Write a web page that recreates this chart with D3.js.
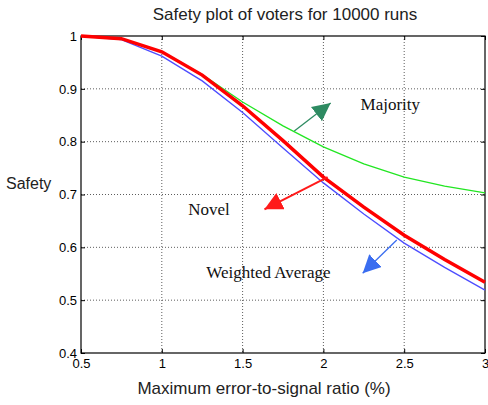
<!DOCTYPE html>
<html>
<head>
<meta charset="utf-8">
<script src="https://cdn.jsdelivr.net/npm/d3@7"></script>
<style>
  body { margin: 0; background: #fff; }
  svg { font-family: "Liberation Sans", Arial, sans-serif; }
  .grid line { stroke: #333; stroke-dasharray: 1,2; stroke-width: 0.8; }
  .note { font-family: "Liberation Serif", "Times New Roman", serif; font-size: 17px; fill: #111; }
</style>
</head>
<body>
<div id="chart"></div>
<script>
const ratio = [0.5, 0.75, 1, 1.25, 1.5, 1.75, 2, 2.25, 2.5, 2.75, 3]
const novel = [1.0, 0.995, 0.97, 0.926, 0.868, 0.802, 0.733, 0.676, 0.623, 0.577, 0.534]
const weighted = [1.0, 0.993, 0.962, 0.915, 0.855, 0.788, 0.722, 0.663, 0.608, 0.562, 0.519]
const majority = [1.0, 0.995, 0.97, 0.927, 0.875, 0.83, 0.79, 0.758, 0.733, 0.716, 0.703]
const xTicks = [0.5, 1, 1.5, 2, 2.5, 3]
const yTicks = [0.4, 0.5, 0.6, 0.7, 0.8, 0.9, 1]

// annotations: label position and arrow tail/tip in data units
const notes = [
  {text: "Majority", x: 2.23, y: 0.86, from: [1.82, 0.82], to: [2.045, 0.873], color: "#2e8b62"},
  {text: "Novel", x: 1.164, y: 0.661, from: [2.026, 0.733], to: [1.635, 0.672], color: "#ff1a1a"},
  {text: "Weighted Average", x: 1.275, y: 0.542, from: [2.454, 0.614], to: [2.243, 0.551], color: "#3a6df0"}
]

const width = 488, height = 405
const margin = {top: 36, right: 3, bottom: 52, left: 81}

const svg = d3.select("#chart").append("svg")
  .attr("width", width).attr("height", height)

const x = d3.scaleLinear().domain([0.5, 3]).range([margin.left, width - margin.right])
const y = d3.scaleLinear().domain([0.4, 1]).range([height - margin.bottom, margin.top])

// grid
svg.append("g").attr("class", "grid")
  .selectAll("line").data(xTicks.slice(1, -1)).join("line")
  .attr("x1", d => x(d)).attr("x2", d => x(d))
  .attr("y1", y(1)).attr("y2", y(0.4))
svg.append("g").attr("class", "grid")
  .selectAll("line").data(yTicks.slice(1, -1)).join("line")
  .attr("x1", x(0.5)).attr("x2", x(3))
  .attr("y1", d => y(d)).attr("y2", d => y(d))

// axes
svg.append("g")
  .attr("transform", `translate(0,${y(0.4)})`)
  .call(d3.axisBottom(x).tickValues(xTicks).tickFormat(d3.format("")).tickSize(-4).tickPadding(6))
  .call(g => g.select(".domain").remove())
  .attr("font-family", null).attr("font-size", 13)
svg.append("g")
  .attr("transform", `translate(${x(0.5)},0)`)
  .call(d3.axisLeft(y).tickValues(yTicks).tickFormat(d3.format("")).tickSize(-4).tickPadding(4))
  .call(g => g.select(".domain").remove())
  .attr("font-family", null).attr("font-size", 13)
svg.append("g")
  .attr("transform", `translate(${x(3)},0)`)
  .call(d3.axisRight(y).tickValues(yTicks).tickFormat("").tickSize(-4))
  .call(g => g.select(".domain").remove())
svg.append("g")
  .attr("transform", `translate(0,${y(1)})`)
  .call(d3.axisTop(x).tickValues(xTicks).tickFormat("").tickSize(-4))
  .call(g => g.select(".domain").remove())

svg.append("rect")
  .attr("x", x(0.5)).attr("y", y(1))
  .attr("width", x(3) - x(0.5)).attr("height", y(0.4) - y(1))
  .attr("fill", "none").attr("stroke", "#000").attr("stroke-width", 1.2)

// lines
const line = vals => d3.line().x((d, i) => x(ratio[i])).y(d => y(d))(vals)
svg.append("path").attr("d", line(majority))
  .attr("fill", "none").attr("stroke", "#22e622").attr("stroke-width", 1.3)
svg.append("path").attr("d", line(weighted))
  .attr("fill", "none").attr("stroke", "#4d4dff").attr("stroke-width", 1.3)
svg.append("path").attr("d", line(novel))
  .attr("fill", "none").attr("stroke", "#ff0000").attr("stroke-width", 3.5)

// annotations
const defs = svg.append("defs")
notes.forEach((n, i) => {
  defs.append("marker")
    .attr("id", "head" + i)
    .attr("viewBox", "0 0 10 10").attr("refX", 10).attr("refY", 5)
    .attr("markerUnits", "userSpaceOnUse")
    .attr("markerWidth", 18).attr("markerHeight", 18)
    .attr("orient", "auto")
    .append("path").attr("d", "M0,0L10,5L0,10z").attr("fill", n.color)
  svg.append("line")
    .attr("x1", x(n.from[0])).attr("y1", y(n.from[1]))
    .attr("x2", x(n.to[0])).attr("y2", y(n.to[1]))
    .attr("stroke", n.color).attr("stroke-width", i === 1 ? 2 : 1.3)
    .attr("marker-end", `url(#head${i})`)
  svg.append("text").attr("class", "note")
    .attr("x", x(n.x)).attr("y", y(n.y))
    .text(n.text)
})

// titles
svg.append("text")
  .attr("x", 285).attr("y", 20).attr("text-anchor", "middle")
  .attr("font-size", 17).attr("fill", "#222")
  .text("Safety plot of voters for 10000 runs")
svg.append("text")
  .attr("x", 264).attr("y", 394).attr("text-anchor", "middle")
  .attr("font-size", 17).attr("fill", "#222")
  .text("Maximum error-to-signal ratio (%)")
svg.append("text")
  .attr("x", 6).attr("y", 189)
  .attr("font-size", 16).attr("fill", "#222")
  .text("Safety")
</script>
</body>
</html>
